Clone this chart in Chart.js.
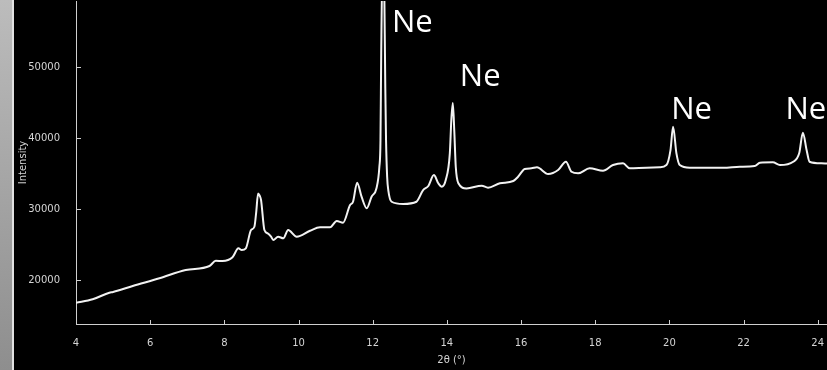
<!DOCTYPE html>
<html>
<head>
<meta charset="utf-8">
<script src="https://cdn.jsdelivr.net/npm/chart.js@4"></script>
<style>
  html, body { margin: 0; padding: 0; background: #000; }
  body { width: 827px; height: 370px; position: relative; overflow: hidden; }
  #strip { position: absolute; left: 0; top: 0; width: 12px; height: 370px;
           background: linear-gradient(#bcbcbc, #8e8e8e); }
  #edge { position: absolute; left: 12px; top: 0; width: 2px; height: 370px; background: #e2e2e2; }
  #wrap { position: absolute; left: 14px; top: 0; width: 813px; height: 370px; }
</style>
</head>
<body>
<div id="strip"></div>
<div id="edge"></div>
<div id="wrap"><canvas id="xrd" width="813" height="370"></canvas></div>
<script>
// 2theta (deg) and intensity
const twoTheta = [
  4.0, 4.45, 4.9, 5.0, 5.53, 6.25, 6.96, 7.6, 7.77, 7.95, 8.22, 8.38, 8.47, 8.58,
  8.72, 8.81, 8.86, 8.91, 8.95, 8.99, 9.08, 9.17, 9.26, 9.32, 9.45, 9.59, 9.72,
  9.95, 10.31, 10.58, 10.85, 11.03, 11.2, 11.39, 11.47, 11.58, 11.7, 11.84,
  11.97, 12.1, 12.18, 12.21, 12.23, 12.27, 12.31, 12.34, 12.36, 12.39, 12.42,
  12.51, 12.82, 13.18, 13.36, 13.5, 13.65, 13.77, 13.86, 13.97, 14.08, 14.12,
  14.16, 14.2, 14.24, 14.31, 14.53, 14.94, 15.11, 15.43, 15.79, 15.92, 16.1,
  16.28, 16.43, 16.73, 17.0, 17.21, 17.36, 17.54, 17.85, 18.21, 18.48, 18.75,
  18.93, 19.38, 19.74, 19.92, 20.03, 20.1, 20.19, 20.28, 20.55, 21.45, 21.9,
  22.3, 22.44, 22.79, 22.98, 23.34, 23.5, 23.6, 23.7, 23.78, 24.1, 24.25
];
const intensity = [
  16800, 17280, 18210, 18310, 19150, 20240, 21400, 21970, 22700, 22680, 23200, 24460, 24220, 24460,
  27040, 27500, 29600, 32200, 31900, 31260, 27040, 26580, 26100, 25630, 26100, 25870, 27040,
  26100, 26940, 27420, 27420, 28300, 28070, 30560, 31020, 33700, 31730, 30100,
  31730, 32900, 35950, 39700, 52000, 66000, 62000, 47000, 39700, 34500, 32670,
  31020, 30700, 31020, 32670, 33240, 34780, 33620, 33140, 34080, 37840, 42500,
  44920, 41000, 35950, 33620, 32900, 33280, 33000, 33620, 33940, 34550, 35630,
  35730, 35870, 34930, 35490, 36660, 35250, 35020, 35730, 35390, 36190, 36430,
  35730, 35810, 35870, 36190, 38300, 41580, 37840, 36190, 35810, 35810, 35950,
  36050, 36520, 36570, 36190, 36660, 37840, 40740, 38300, 36660, 36430, 36400
];
// peak labels, anchored in data units (left edge, baseline)
const peakLabels = ['Ne', 'Ne', 'Ne', 'Ne'];
const peakLabelX = [12.52, 14.35, 20.05, 23.13];
const peakLabelY = [55000, 47300, 42700, 42700];

const xTicks = [4, 6, 8, 10, 12, 14, 16, 18, 20, 22, 24];
const yTicks = [20000, 30000, 40000, 50000];

const axisColor = '#cfcfcf';
const textColor = '#d4d4d4';
const tickFont = {family: 'DejaVu Sans', size: 10};

// short tick marks pointing into the plot, plus the peak labels
const innerTicks = {
  id: 'innerTicks',
  afterDraw(chart) {
    const {ctx, chartArea, scales: {x, y}} = chart;
    ctx.save();
    ctx.strokeStyle = axisColor;
    ctx.lineWidth = 1;
    ctx.beginPath();
    xTicks.forEach(v => {
      const px = Math.round(x.getPixelForValue(v)) + 0.5;
      ctx.moveTo(px, chartArea.bottom);
      ctx.lineTo(px, chartArea.bottom - 4);
    });
    yTicks.forEach(v => {
      const py = Math.round(y.getPixelForValue(v)) + 0.5;
      ctx.moveTo(chartArea.left, py);
      ctx.lineTo(chartArea.left + 5, py);
    });
    ctx.stroke();

    ctx.fillStyle = '#ffffff';
    ctx.font = '31px "Open Sans"';
    ctx.textAlign = 'left';
    ctx.textBaseline = 'alphabetic';
    peakLabels.forEach((t, i) => {
      ctx.fillText(t, x.getPixelForValue(peakLabelX[i]), y.getPixelForValue(peakLabelY[i]));
    });
    ctx.restore();
  }
};

const data = {
  datasets: [{
    data: twoTheta.map((t, i) => ({x: t, y: intensity[i]})),
    borderColor: '#f2f2f2',
    borderWidth: 2,
    pointRadius: 0,
    fill: false,
    cubicInterpolationMode: 'monotone'
  }]
};

const options = {
  responsive: false,
  animation: false,
  devicePixelRatio: 1,
  layout: {padding: {top: 1, right: 0, left: 0, bottom: 0}},
  plugins: {
    legend: {display: false},
    tooltip: {enabled: false},
    title: {display: false}
  },
  scales: {
    x: {
      type: 'linear',
      min: 4,
      max: 24.25,
      afterFit: s => { s.height = 46; s.paddingLeft = 0; s.paddingRight = 0; },
      afterBuildTicks: s => { s.ticks = xTicks.map(v => ({value: v})); },
      grid: {display: false},
      border: {display: true, color: axisColor, width: 1},
      ticks: {
        color: textColor,
        font: tickFont,
        padding: 5,
        maxRotation: 0,
        autoSkip: false,
        callback: v => String(v)
      },
      title: {
        display: true,
        text: '2θ (°)',
        color: textColor,
        font: tickFont,
        padding: {top: 0, bottom: 4}
      }
    },
    y: {
      type: 'linear',
      min: 13800,
      max: 59300,
      afterFit: s => { s.width = 62; s.paddingTop = 0; s.paddingBottom = 0; },
      afterBuildTicks: s => { s.ticks = yTicks.map(v => ({value: v})); },
      grid: {display: false},
      border: {display: true, color: axisColor, width: 1},
      ticks: {
        color: textColor,
        font: tickFont,
        padding: 8,
        autoSkip: false,
        callback: v => String(v)
      },
      title: {
        display: true,
        text: 'Intensity',
        color: textColor,
        font: tickFont,
        padding: {top: 3, bottom: 0}
      }
    }
  }
};

new Chart(document.getElementById('xrd').getContext('2d'), {
  type: 'line',
  data: data,
  options: options,
  plugins: [innerTicks]
});
</script>
</body>
</html>
